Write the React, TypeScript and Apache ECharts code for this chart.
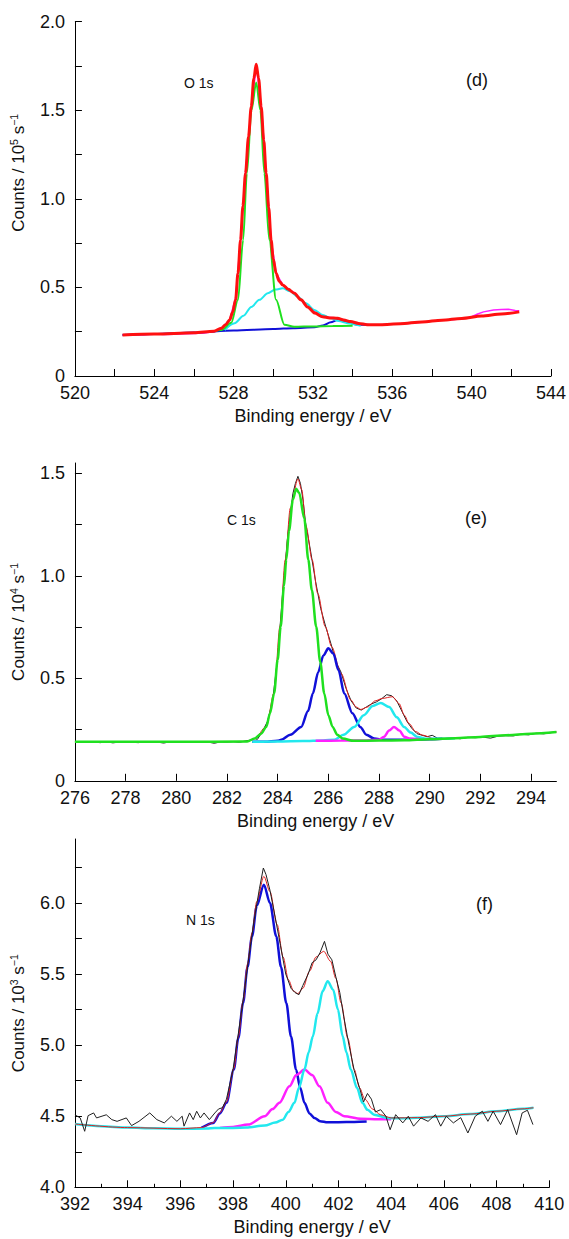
import React, { useEffect, useRef } from "react";
import * as echarts from "echarts";

const FONT = '"Liberation Sans", Arial, Helvetica, sans-serif';

// ---------- Panel (d) O 1s ----------
const dXTicks = [520, 522, 524, 526, 528, 530, 532, 534, 536, 538, 540, 542, 544];
const dXLabels = [520, 524, 528, 532, 536, 540, 544];
const dYTicks = [0, 0.25, 0.5, 0.75, 1, 1.25, 1.5, 1.75, 2];
const dYLabels = [0, 0.5, 1, 1.5, 2];

const dRaw = [
  [522.4, 0.232], [523, 0.234], [523.5, 0.233], [524, 0.238], [524.5, 0.234], [525, 0.236], [525.5, 0.238],
  [526, 0.24], [526.5, 0.243], [527, 0.25], [527.4, 0.268], [527.8, 0.318], [528.1, 0.44], [528.35, 0.77],
  [528.6, 1.15], [528.9, 1.53], [529.15, 1.75], [529.4, 1.52], [529.65, 1.14], [529.9, 0.76], [530.15, 0.58],
  [530.5, 0.512], [530.85, 0.485], [531.1, 0.468], [531.7, 0.39], [532.5, 0.335], [533.2, 0.327], [533.9, 0.307],
  [534.7, 0.288], [535.4, 0.29], [536, 0.293], [537, 0.298], [538, 0.31], [539, 0.318], [539.6, 0.325],
  [540, 0.335], [540.3, 0.35], [540.6, 0.362], [541.1, 0.372], [541.5, 0.375], [541.85, 0.377], [542.2, 0.37],
  [542.4, 0.368],
];
const dBlue = [
  [522.4, 0.232], [524, 0.237], [526, 0.245], [528, 0.257], [530, 0.265], [531, 0.27], [532.07, 0.275],
  [532.5, 0.285], [532.9, 0.303], [533.24, 0.316], [533.6, 0.308], [534.24, 0.29], [534.8, 0.289],
];
const dCyan = [
  [527.55, 0.26], [528.05, 0.298], [528.5, 0.34], [528.89, 0.39], [529.3, 0.43], [529.72, 0.467], [530.1, 0.488],
  [530.48, 0.495], [530.85, 0.478], [531.23, 0.448], [531.65, 0.41], [532.07, 0.373], [532.5, 0.345],
  [532.9, 0.326], [533.3, 0.31], [533.74, 0.298], [534.41, 0.283],
];
const dGreen = [
  [527.0, 0.252], [527.4, 0.26], [527.88, 0.3], [528.22, 0.43], [528.48, 0.768], [528.67, 1.145], [528.9, 1.5],
  [529.14, 1.657], [529.35, 1.5], [529.55, 1.145], [529.8, 0.768], [530.14, 0.43], [530.56, 0.29],
  [531.06, 0.278], [532, 0.28], [533, 0.282], [534, 0.283],
];
const dRed = [
  [522.4, 0.232], [524, 0.237], [526, 0.244], [527, 0.252], [527.38, 0.27], [527.6, 0.29], [527.8, 0.316],
  [527.95, 0.36], [528.1, 0.43], [528.22, 0.58], [528.35, 0.768], [528.47, 0.96], [528.6, 1.145], [528.75, 1.35],
  [528.89, 1.52], [529.02, 1.68], [529.14, 1.76], [529.26, 1.68], [529.39, 1.52], [529.52, 1.33], [529.64, 1.145],
  [529.77, 0.95], [529.89, 0.768], [530.0, 0.66], [530.14, 0.58], [530.3, 0.535], [530.48, 0.514], [530.75, 0.49],
  [531.06, 0.467], [531.4, 0.43], [531.73, 0.39], [532.1, 0.355], [532.48, 0.335], [532.85, 0.328],
  [533.24, 0.326], [533.55, 0.316], [533.9, 0.307], [534.3, 0.297], [534.74, 0.29], [535.4, 0.29],
  [536.4, 0.295], [537.5, 0.305], [538.5, 0.315], [539.5, 0.325], [540.5, 0.338], [541.5, 0.35], [542.4, 0.362],
];

// ---------- Panel (e) C 1s ----------
const eXTicks = [276, 278, 280, 282, 284, 286, 288, 290, 292, 294];
const eYTicks = [0, 0.25, 0.5, 0.75, 1, 1.25, 1.5];
const eYLabels = [0, 0.5, 1, 1.5];

const eRaw = [
  [276, 0.19], [276.25, 0.188], [276.5, 0.191], [276.75, 0.189], [277, 0.186], [277.25, 0.19], [277.5, 0.185],
  [277.75, 0.189], [278, 0.19], [278.25, 0.188], [278.5, 0.186], [278.75, 0.19], [279, 0.187], [279.25, 0.189],
  [279.5, 0.184], [279.75, 0.19], [280, 0.191], [280.25, 0.189], [280.5, 0.19], [280.75, 0.188], [281, 0.19],
  [281.25, 0.189], [281.5, 0.183], [281.75, 0.19], [282, 0.189], [282.25, 0.191], [282.5, 0.188], [282.75, 0.195],
  [283, 0.2], [283.1, 0.206], [283.2, 0.202], [283.4, 0.24], [283.6, 0.29], [283.8, 0.39], [284, 0.6],
  [284.2, 0.92], [284.4, 1.2], [284.6, 1.4], [284.7, 1.45], [284.8, 1.485], [284.9, 1.45], [285.0, 1.37],
  [285.1, 1.26], [285.3, 1.12], [285.5, 0.97], [285.7, 0.84], [285.9, 0.75], [286.1, 0.67], [286.3, 0.58],
  [286.5, 0.53], [286.7, 0.45], [286.9, 0.39], [287.1, 0.355], [287.3, 0.345], [287.5, 0.36], [287.7, 0.375],
  [287.9, 0.385], [288.1, 0.4], [288.3, 0.42], [288.5, 0.415], [288.7, 0.39], [288.9, 0.34], [289.1, 0.29],
  [289.3, 0.255], [289.5, 0.23], [289.7, 0.222], [289.9, 0.215], [290.1, 0.222], [290.3, 0.208], [290.6, 0.206],
  [290.9, 0.21], [291.2, 0.205], [291.5, 0.212], [291.8, 0.21], [292.1, 0.213], [292.4, 0.208], [292.7, 0.218],
  [293, 0.22], [293.3, 0.219], [293.6, 0.227], [293.9, 0.224], [294.2, 0.232], [294.5, 0.229], [294.8, 0.235],
  [295, 0.238],
];
const eRed = [
  [276, 0.19], [282.8, 0.192], [283.1, 0.207], [283.55, 0.265], [283.86, 0.43], [284.09, 0.752], [284.3, 1.078],
  [284.5, 1.33], [284.8, 1.472], [284.95, 1.42], [285.12, 1.241], [285.36, 1.078], [285.58, 0.915],
  [285.88, 0.752], [286.13, 0.654], [286.5, 0.524], [286.89, 0.394], [287.1, 0.36], [287.28, 0.348],
  [287.55, 0.36], [287.85, 0.39], [288.14, 0.402], [288.53, 0.41], [288.79, 0.377], [289.0, 0.32],
  [289.18, 0.28], [289.45, 0.24], [289.71, 0.223], [290.17, 0.206], [291, 0.208], [292, 0.214], [293, 0.222],
  [294, 0.23], [295, 0.238],
];
const eGreen = [
  [276, 0.19], [280, 0.19], [282.8, 0.192], [283.09, 0.206], [283.35, 0.23], [283.55, 0.263], [283.7, 0.33],
  [283.86, 0.426], [284.0, 0.59], [284.12, 0.752], [284.25, 0.95], [284.34, 1.078], [284.45, 1.22],
  [284.6, 1.37], [284.73, 1.424], [284.85, 1.405], [285.05, 1.28], [285.21, 1.078], [285.35, 0.93],
  [285.52, 0.752], [285.68, 0.58], [285.84, 0.426], [286.0, 0.32], [286.17, 0.263], [286.35, 0.225],
  [286.57, 0.206], [287, 0.195], [288, 0.196], [289, 0.198], [290, 0.203], [291, 0.208], [292, 0.214],
  [293, 0.222], [294, 0.23], [295, 0.238],
];
const eBlue = [
  [283, 0.19], [283.5, 0.19], [284, 0.195], [284.14, 0.2], [284.5, 0.225], [284.93, 0.263], [285.2, 0.34],
  [285.39, 0.426], [285.6, 0.53], [285.8, 0.61], [286.0, 0.646], [286.2, 0.62], [286.4, 0.54], [286.63, 0.426],
  [286.95, 0.33], [287.26, 0.263], [287.5, 0.225], [287.81, 0.206], [288.2, 0.2], [289, 0.2], [290, 0.203],
  [290.5, 0.205],
];
const eCyan = [
  [283, 0.19], [284, 0.192], [285, 0.194], [285.8, 0.197], [286.24, 0.2], [286.6, 0.225], [287.02, 0.263],
  [287.4, 0.32], [287.75, 0.365], [288.07, 0.38], [288.4, 0.36], [288.7, 0.31], [288.99, 0.263],
  [289.25, 0.235], [289.51, 0.214], [289.9, 0.205], [290.5, 0.205], [291, 0.207],
];
const eMagenta = [
  [285.5, 0.195], [286.5, 0.196], [287.5, 0.197], [288.0, 0.2], [288.2, 0.215], [288.4, 0.245], [288.59, 0.263],
  [288.8, 0.245], [289.0, 0.215], [289.2, 0.206], [289.6, 0.203],
];

// ---------- Panel (f) N 1s ----------
const fYTicks = [4, 4.25, 4.5, 4.75, 5, 5.25, 5.5, 5.75, 6, 6.25];
const fYLabels = [4, 4.5, 5, 5.5, 6];

const fRaw = [
  [392, 4.51], [392.2, 4.488], [392.37, 4.394], [392.5, 4.504], [392.71, 4.523], [392.82, 4.488], [393.19, 4.51],
  [393.4, 4.476], [393.6, 4.464], [393.95, 4.488], [394.15, 4.434], [394.43, 4.464], [394.84, 4.523],
  [395.11, 4.476], [395.39, 4.453], [395.66, 4.5], [395.87, 4.464], [396.07, 4.5], [396.14, 4.43],
  [396.35, 4.523], [396.49, 4.476], [396.62, 4.535], [396.76, 4.488], [396.9, 4.523], [397.1, 4.476],
  [397.31, 4.523], [397.45, 4.551], [397.6, 4.56], [397.75, 4.62], [398.0, 4.83], [398.2, 5.08], [398.4, 5.34],
  [398.6, 5.62], [398.8, 5.88], [399.0, 6.1], [399.15, 6.246], [399.25, 6.2], [399.4, 6.09], [399.6, 5.9],
  [399.8, 5.7], [400.0, 5.5], [400.2, 5.4], [400.35, 5.37], [400.5, 5.355], [400.65, 5.42], [400.85, 5.5],
  [401.0, 5.58], [401.15, 5.6], [401.3, 5.65], [401.47, 5.73], [401.6, 5.64], [401.75, 5.6], [401.9, 5.48],
  [402.05, 5.37], [402.2, 5.2], [402.4, 5.0], [402.6, 4.82], [402.8, 4.7], [402.95, 4.6], [403.1, 4.66],
  [403.25, 4.62], [403.4, 4.53], [403.6, 4.546], [403.8, 4.5], [403.96, 4.405], [404.17, 4.511],
  [404.44, 4.453], [404.65, 4.5], [404.85, 4.43], [405.13, 4.488], [405.4, 4.464], [405.68, 4.511],
  [405.88, 4.43], [406.09, 4.5], [406.36, 4.453], [406.64, 4.49], [406.91, 4.382], [407.19, 4.5],
  [407.46, 4.535], [407.67, 4.464], [407.87, 4.535], [408.15, 4.441], [408.42, 4.546], [408.76, 4.37],
  [408.97, 4.523], [409.17, 4.542], [409.38, 4.441],
];
const fRed = [
  [392, 4.445], [394, 4.42], [396, 4.412], [396.8, 4.42], [397.25, 4.455], [397.5, 4.525], [397.75, 4.6],
  [398.03, 4.835], [398.2, 5.06], [398.38, 5.31], [398.55, 5.57], [398.72, 5.79], [398.9, 6.01], [399.17, 6.187],
  [399.4, 6.08], [399.67, 5.85], [399.9, 5.62], [400.1, 5.46], [400.3, 5.38], [400.46, 5.362], [400.65, 5.4],
  [400.9, 5.52], [401.15, 5.62], [401.44, 5.66], [401.7, 5.59], [401.9, 5.47], [402.1, 5.297], [402.35, 5.05],
  [402.6, 4.828], [402.8, 4.7], [403.0, 4.62], [403.3, 4.55], [403.6, 4.51], [404, 4.488], [405, 4.49],
  [406, 4.5], [407, 4.515], [408, 4.535], [409, 4.552], [409.4, 4.56],
];
const fBlue = [
  [396.8, 4.418], [397.25, 4.453], [397.5, 4.52], [397.75, 4.594], [398.03, 4.828], [398.2, 5.05],
  [398.38, 5.297], [398.55, 5.55], [398.72, 5.765], [398.9, 5.98], [399.17, 6.129], [399.4, 6.0],
  [399.64, 5.765], [399.82, 5.55], [400.02, 5.297], [400.2, 5.06], [400.39, 4.828], [400.55, 4.7],
  [400.71, 4.594], [400.9, 4.52], [401.09, 4.488], [401.3, 4.465], [401.59, 4.457], [402.0, 4.458],
  [402.6, 4.46], [403.07, 4.462],
];
const fCyan = [
  [392, 4.445], [393, 4.43], [394, 4.42], [395, 4.415], [396, 4.412], [397, 4.413], [397.3, 4.418],
  [398, 4.418], [398.5, 4.42], [399.2, 4.434], [399.6, 4.455], [399.89, 4.476], [400.1, 4.53], [400.33, 4.594],
  [400.5, 4.7], [400.71, 4.828], [400.87, 4.95], [401.03, 5.062], [401.2, 5.22], [401.4, 5.38], [401.59, 5.449],
  [401.8, 5.39], [401.98, 5.25], [402.16, 5.062], [402.3, 4.95], [402.47, 4.828], [402.7, 4.7], [402.91, 4.594],
  [403.1, 4.545], [403.35, 4.511], [403.86, 4.488], [404.5, 4.485], [405, 4.49], [406, 4.5], [407, 4.515],
  [408, 4.535], [409, 4.552], [409.4, 4.56],
];
const fMagenta = [
  [397.5, 4.418], [398, 4.425], [398.57, 4.441], [399.2, 4.5], [399.5, 4.55], [399.76, 4.594], [400.14, 4.71],
  [400.4, 4.79], [400.71, 4.828], [401.0, 4.79], [401.28, 4.71], [401.59, 4.594], [401.9, 4.53], [402.22, 4.5],
  [402.85, 4.483], [403.5, 4.478], [404, 4.478],
];

const C = {
  red: "#ff1010",
  green: "#1fe01f",
  cyan: "#22e8ee",
  blue: "#1010d8",
  magenta: "#ff20ff",
  black: "#202020",
};

const fmtY = (v: number) => {
  if (Math.abs(v) < 1e-9) return "0";
  return v.toFixed(1);
};

function xAxis(gridIndex: number, min: number, max: number, extra: any) {
  return {
    type: "value",
    gridIndex,
    min,
    max,
    name: "Binding energy / eV",
    nameLocation: "middle",
    nameGap: 31,
    nameTextStyle: { fontFamily: FONT, fontSize: 18, color: "#111" },
    axisLine: { show: true, onZero: false, lineStyle: { color: "#000", width: 1 } },
    axisTick: { show: true, inside: true, length: 7, lineStyle: { color: "#000", width: 1 } },
    axisLabel: { show: true, margin: 8, fontFamily: FONT, fontSize: 18, color: "#111" },
    splitLine: { show: false },
    ...extra,
  };
}

function yAxis(gridIndex: number, min: number, max: number, exp: string, ticks: number[], labels: number[], pad: number) {
  return {
    type: "value",
    gridIndex,
    min,
    max,
    name: "Counts / 10{sup|" + exp + "} s{sup|\u22121}",
    nameLocation: "middle",
    nameRotate: 90,
    nameGap: 43,
    nameTextStyle: {
      fontFamily: FONT,
      fontSize: 17,
      color: "#111",
      lineHeight: 21,
      padding: [0, 0, 0, pad],
      rich: {
        sup: { fontFamily: FONT, fontSize: 10.5, color: "#111", verticalAlign: "top", lineHeight: 11 },
      },
    },
    axisLine: { show: true, onZero: false, lineStyle: { color: "#000", width: 1 } },
    axisTick: { show: true, inside: true, length: 7, customValues: ticks, lineStyle: { color: "#000", width: 1 } },
    axisLabel: {
      show: true,
      margin: 10,
      fontFamily: FONT,
      fontSize: 18,
      color: "#111",
      customValues: labels,
      formatter: (v: number) => fmtY(v),
    },
    splitLine: { show: false },
  };
}

function line(data: number[][], color: string, width: number, xi: number, smooth: boolean | number, z: number) {
  return {
    type: "line",
    xAxisIndex: xi,
    yAxisIndex: xi,
    data,
    showSymbol: false,
    symbol: "none",
    smooth,
    smoothMonotone: "x",
    lineStyle: { color, width },
    itemStyle: { color },
    z,
    silent: true,
  };
}

export default function App() {
  const ref = useRef<HTMLDivElement>(null);
  useEffect(() => {
    document.body.style.margin = "0";
    if (!ref.current) return;
    const chart = echarts.init(ref.current, undefined, { renderer: "svg" });
    const option: any = {
      animation: false,
      backgroundColor: "#ffffff",
      grid: [
        { left: 72.7, top: 21.7, width: 478.3, height: 354.3 },
        { left: 72.7, top: 463, width: 483.7, height: 317.8 },
        { left: 72.7, top: 839, width: 476.6, height: 348.3 },
      ],
      xAxis: [
        xAxis(0, 520, 544, {
          axisTick: { show: true, inside: true, length: 7, customValues: dXTicks, lineStyle: { color: "#000" } },
          axisLabel: { show: true, margin: 8, fontFamily: FONT, fontSize: 18, color: "#111", customValues: dXLabels },
        }),
        xAxis(1, 276, 295, {
          axisTick: { show: true, inside: true, length: 7, customValues: eXTicks, lineStyle: { color: "#000" } },
          axisLabel: { show: true, margin: 8, fontFamily: FONT, fontSize: 18, color: "#111", customValues: eXTicks },
        }),
        xAxis(2, 392, 410, {
          interval: 2,
          minorTick: { show: true, splitNumber: 2, length: 3.5, lineStyle: { color: "#000" } },
        }),
      ],
      yAxis: [
        yAxis(0, 0, 2, "5", dYTicks, dYLabels, 52),
        yAxis(1, 0, 1.55, "4", eYTicks, eYLabels, 0),
        yAxis(2, 4, 6.45, "3", fYTicks, fYLabels, 0),
      ],
      series: [
        line(dRaw, C.magenta, 1.5, 0, false, 2),
        line(dBlue, C.blue, 2, 0, 0.3, 3),
        line(dCyan, C.cyan, 2, 0, 0.3, 4),
        line(dGreen, C.green, 2, 0, 0.3, 5),
        line(dRed, C.red, 3, 0, 0.3, 6),

        line(eRaw, C.black, 1, 1, false, 2),
        line(eRed, "#e02020", 1, 1, 0.3, 3),
        line(eBlue, C.blue, 2.5, 1, 0.3, 4),
        line(eCyan, C.cyan, 2.5, 1, 0.3, 4),
        line(eMagenta, C.magenta, 2.5, 1, 0.3, 4),
        line(eGreen, C.green, 2.5, 1, 0.3, 5),

        line(fBlue, C.blue, 2.5, 2, 0.3, 3),
        line(fMagenta, C.magenta, 2.5, 2, 0.3, 3),
        line(fCyan, C.cyan, 2.5, 2, 0.3, 4),
        line(fRed, "#e02020", 1, 2, 0.3, 5),
        line(fRaw, C.black, 1, 2, false, 6),
      ],
      graphic: [
        { type: "text", left: 184, top: 76, style: { text: "O 1s", fontFamily: FONT, fontSize: 14, fill: "#111" } },
        { type: "text", left: 466, top: 71, style: { text: "(d)", fontFamily: FONT, fontSize: 18, fill: "#111" } },
        { type: "text", left: 227, top: 513, style: { text: "C 1s", fontFamily: FONT, fontSize: 14, fill: "#111" } },
        { type: "text", left: 465, top: 509, style: { text: "(e)", fontFamily: FONT, fontSize: 18, fill: "#111" } },
        { type: "text", left: 186, top: 913, style: { text: "N 1s", fontFamily: FONT, fontSize: 14, fill: "#111" } },
        { type: "text", left: 476, top: 895, style: { text: "(f)", fontFamily: FONT, fontSize: 18, fill: "#111" } },
      ],
    };
    chart.setOption(option);
    return () => chart.dispose();
  }, []);
  return <div ref={ref} style={{ width: 569, height: 1239 }} />;
}
